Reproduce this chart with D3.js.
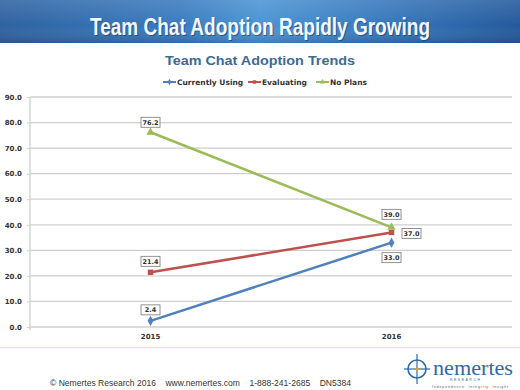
<!DOCTYPE html>
<html><head><meta charset="utf-8">
<script src="https://cdn.jsdelivr.net/npm/d3@7"></script>
<style>body{margin:0;background:#fff}svg{display:block}</style>
</head><body>
<svg id="c" width="520" height="390"></svg>
<script>
const categories = ["2015", "2016"];
const seriesNames = ["Currently Using", "Evaluating", "No Plans"];
const currentlyUsing = [2.4, 33.0];
const evaluating = [21.4, 37.0];
const noPlans = [76.2, 39.0];
const yTicks = [0, 10, 20, 30, 40, 50, 60, 70, 80, 90];

const colors = ["#4f81bd", "#c0504d", "#9bbb59"];
const svg = d3.select("#c");

// Banner
const defs = svg.append("defs");
const g1 = defs.append("linearGradient").attr("id","ban").attr("x1","0").attr("x2","1");
[["0%","#2f62a0"],["35%","#3a7cc0"],["50%","#4c94d4"],["70%","#3a7cc0"],["100%","#245a9c"]]
  .forEach(s=>g1.append("stop").attr("offset",s[0]).attr("stop-color",s[1]));
const g2 = defs.append("linearGradient").attr("id","banv").attr("x1","0").attr("x2","0").attr("y1","0").attr("y2","1");
[["0%","#ffffff",0.12],["60%","#ffffff",0],["100%","#000000",0.15]]
  .forEach(s=>g2.append("stop").attr("offset",s[0]).attr("stop-color",s[1]).attr("stop-opacity",s[2]));
svg.append("rect").attr("x",0).attr("y",0).attr("width",520).attr("height",43).attr("fill","url(#ban)");
svg.append("rect").attr("x",0).attr("y",0).attr("width",520).attr("height",43).attr("fill","url(#banv)");
svg.append("text").attr("x",261).attr("y",36).attr("text-anchor","middle")
  .attr("font-family","Liberation Sans Narrow, Arial Narrow, Liberation Sans, Arial, sans-serif")
  .attr("font-weight","bold").attr("font-size",23).attr("fill","#1a3a66").attr("opacity",0.6)
  .attr("textLength",340).attr("lengthAdjust","spacingAndGlyphs")
  .text("Team Chat Adoption Rapidly Growing");
svg.append("text").attr("x",260).attr("y",35).attr("text-anchor","middle")
  .attr("font-family","Liberation Sans Narrow, Arial Narrow, Liberation Sans, Arial, sans-serif")
  .attr("font-weight","bold").attr("font-size",23).attr("fill","#f4f8fc")
  .attr("textLength",340).attr("lengthAdjust","spacingAndGlyphs")
  .text("Team Chat Adoption Rapidly Growing");

// Chart title
svg.append("text").attr("x",260).attr("y",65).attr("text-anchor","middle")
  .attr("font-family","Liberation Sans, Arial, sans-serif").attr("font-weight","bold")
  .attr("font-size",13.5).attr("fill","#3b6b94")
  .attr("textLength",190).attr("lengthAdjust","spacingAndGlyphs")
  .text("Team Chat Adoption Trends");

// Scales
const x = d3.scaleBand().domain(categories).range([30, 512]);
const y = d3.scaleLinear().domain([0, 90]).range([327, 97]);
const cx = c => x(c) + x.bandwidth()/2;

// Grid
svg.append("g").selectAll("line").data(yTicks).join("line")
  .attr("x1",30).attr("x2",512).attr("y1",d=>y(d)).attr("y2",d=>y(d))
  .attr("stroke","#cfcfcf").attr("stroke-width",1.3);
svg.append("line").attr("x1",30).attr("x2",30).attr("y1",y(90)).attr("y2",y(0)+3)
  .attr("stroke","#cfcfcf").attr("stroke-width",1.3);

// Axes
const yAxis = d3.axisLeft(y).tickValues(yTicks).tickFormat(d3.format(".1f")).tickSize(3);
const ya = svg.append("g").attr("transform","translate(30,0)").call(yAxis);
ya.select(".domain").remove();
ya.selectAll("line").attr("stroke","#cfcfcf");
ya.selectAll("text").attr("font-family","DejaVu Sans, Verdana, sans-serif").attr("font-size",7)
  .attr("font-weight","bold").attr("fill","#333").attr("x",-8);

const xAxis = d3.axisBottom(x).tickSize(0);
const xa = svg.append("g").attr("transform","translate(0,"+y(0)+")").call(xAxis);
xa.select(".domain").remove();
xa.selectAll("text").attr("font-family","DejaVu Sans, Verdana, sans-serif").attr("font-size",7)
  .attr("font-weight","bold").attr("fill","#333").attr("dy","1.25em");

// Lines
const series = [currentlyUsing, evaluating, noPlans];
const line = d3.line().x((d,i)=>cx(categories[i])).y(d=>y(d));
series.forEach((s,k)=>{
  svg.append("path").datum(s).attr("d",line).attr("fill","none")
    .attr("stroke",colors[k]).attr("stroke-width",2.5);
});
const sym = [d3.symbolDiamond, d3.symbolSquare, d3.symbolTriangle];
series.forEach((s,k)=>{
  svg.append("g").selectAll("path").data(s).join("path")
    .attr("transform",(d,i)=>`translate(${cx(categories[i])},${y(d)})`)
    .attr("d",d3.symbol(sym[k], 30)).attr("fill",colors[k]);
});

// Data labels
const labelPos = [
  [[0,-11],[0,15]],
  [[0,-11],[20,1]],
  [[0,-10],[0,-13]]
];
series.forEach((s,k)=>{
  s.forEach((v,i)=>{
    const px = cx(categories[i]) + labelPos[k][i][0];
    const py = y(v) + labelPos[k][i][1];
    const g = svg.append("g");
    g.append("rect").attr("x",px-9.5).attr("y",py-5).attr("width",19).attr("height",10)
      .attr("fill","#fff").attr("stroke","#777").attr("stroke-width",0.8);
    g.append("text").attr("x",px).attr("y",py+2.5).attr("text-anchor","middle")
      .attr("font-family","DejaVu Sans, Verdana, sans-serif").attr("font-size",6.5)
      .attr("font-weight","bold").attr("fill","#333").text(d3.format(".1f")(v));
  });
});

// Legend
const legX = [163, 248, 316];
seriesNames.forEach((n,k)=>{
  const g = svg.append("g").attr("transform",`translate(${legX[k]},82)`);
  g.append("line").attr("x1",0).attr("x2",13).attr("y1",0).attr("y2",0)
    .attr("stroke",colors[k]).attr("stroke-width",2);
  g.append("path").attr("transform","translate(6.5,0)").attr("d",d3.symbol(sym[k],12)).attr("fill",colors[k]);
  g.append("text").attr("x",14).attr("y",2.8).attr("font-family","DejaVu Sans, Verdana, sans-serif")
    .attr("font-size",7.5).attr("font-weight","bold").attr("fill","#333").text(n);
});

// Chart area bottom border
svg.append("line").attr("x1",0).attr("x2",520).attr("y1",347.5).attr("y2",347.5)
  .attr("stroke","#e6e2b8").attr("stroke-width",1);

// Footer
svg.append("text").attr("x",50).attr("y",386).attr("font-family","Liberation Sans, Arial, sans-serif")
  .attr("font-size",9.5).attr("fill","#333").attr("xml:space","preserve")
  .attr("textLength",301).attr("lengthAdjust","spacingAndGlyphs")
  .text("\u00A9 Nemertes Research 2016    www.nemertes.com    1-888-241-2685    DN5384");

// Logo
const lg = svg.append("g");
lg.append("circle").attr("cx",417).attr("cy",369).attr("r",9).attr("fill","none").attr("stroke","#2f6aa6").attr("stroke-width",1.6);
lg.append("line").attr("x1",404).attr("x2",430).attr("y1",369).attr("y2",369).attr("stroke","#2f6aa6").attr("stroke-width",1.2);
lg.append("line").attr("x1",417).attr("x2",417).attr("y1",354).attr("y2",384).attr("stroke","#2f6aa6").attr("stroke-width",1.2);
lg.append("circle").attr("cx",417).attr("cy",369).attr("r",1.8).attr("fill","#e0a030");
lg.append("text").attr("x",433).attr("y",375).attr("font-family","Liberation Serif, Times New Roman, serif")
  .attr("font-size",20).attr("fill","#2f6aa6").attr("textLength",80).attr("lengthAdjust","spacingAndGlyphs").text("nemertes");
lg.append("text").attr("x",450).attr("y",381).attr("font-family","Liberation Sans, Arial, sans-serif")
  .attr("font-size",3.5).attr("fill","#2f6aa6").attr("letter-spacing",1.5).text("RESEARCH");
lg.append("text").attr("x",432).attr("y",388).attr("font-family","Liberation Sans, Arial, sans-serif")
  .attr("font-size",3.5).attr("fill","#555").attr("textLength",76).text("Independence. Integrity. Insight");
</script>
</body></html>
